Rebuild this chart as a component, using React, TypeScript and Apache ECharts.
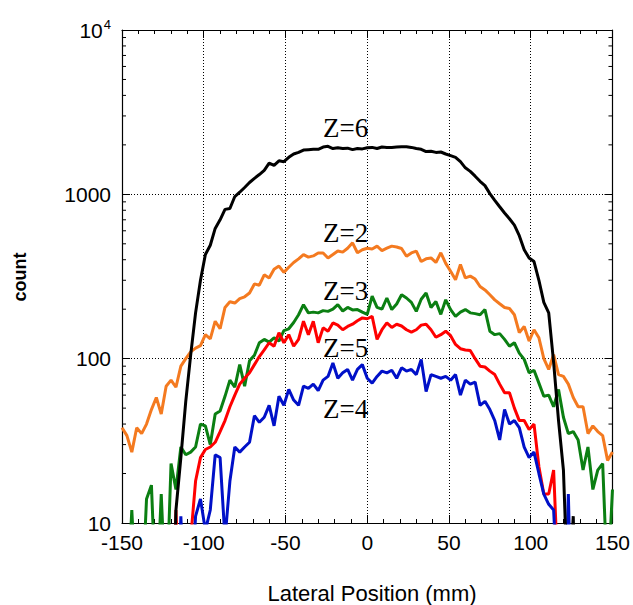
import React, { useEffect, useRef } from "react";
import * as echarts from "echarts";

const positions = [
  -150, -147, -144, -141, -138, -135, -132, -129, -126, -123,
  -120, -117, -114, -111, -108, -105, -102, -99, -96, -93,
  -90, -87, -84, -81, -78, -75, -72, -69, -66, -63,
  -60, -57, -54, -51, -48, -45, -42, -39, -36, -33,
  -30, -27, -24, -21, -18, -15, -12, -9, -6, -3,
  0, 3, 6, 9, 12, 15, 18, 21, 24, 27,
  30, 33, 36, 39, 42, 45, 48, 51, 54, 57,
  60, 63, 66, 69, 72, 75, 78, 81, 84, 87,
  90, 93, 96, 99, 102, 105, 108, 111, 114, 117,
  120, 123, 126, 129, 132, 135, 138, 141, 144, 147,
  150,
];

const z6 = [
  1, 1, 1, 1, 1, 1, 1, 1, 1, 1,
  1, 12, 25, 55, 105, 190, 300, 430, 490, 620,
  700, 810, 820, 970, 1030, 1100, 1180, 1250, 1320, 1400,
  1550, 1500, 1600, 1580, 1680, 1760, 1800, 1860, 1870, 1880,
  1880, 1940, 1960, 1900, 1920, 1900, 1910, 1870, 1900, 1890,
  1920, 1930, 1900, 1940, 1930, 1930, 1940, 1950, 1950, 1930,
  1900, 1880, 1820, 1830, 1800, 1810, 1760, 1720, 1680, 1580,
  1450, 1380, 1290, 1200, 1130, 1010, 920, 840, 770, 710,
  650, 560, 460, 410, 390, 300, 220, 190, 95, 42,
  21, 3, 11, 1, 1, 1, 1, 1, 1, 1,
  1,
];

const z2 = [
  38, 34, 27, 38, 35, 40, 49, 58, 46, 68,
  74, 67, 90, 100, 110, 116, 120, 140, 132, 169,
  152, 205, 222, 218, 232, 238, 251, 285, 280, 324,
  310, 350, 366, 335, 360, 385, 405, 430, 415, 422,
  440, 440, 410, 430, 452, 445, 470, 507, 441, 460,
  470, 465, 484, 455, 470, 484, 478, 468, 420, 440,
  451, 390, 405, 410, 385, 441, 380, 340, 302, 374,
  310, 318, 305, 275, 262, 245, 228, 216, 205, 202,
  185, 144, 157, 128, 150, 134, 100, 86, 106, 80,
  78, 70, 58, 51, 51, 35, 39, 36, 34, 24,
  27,
];

const z3 = [
  3, 3, 12, 3, 3, 14, 17, 3, 15, 3,
  23, 16, 29, 26, 27, 29, 40, 39, 30, 46,
  48, 59, 74, 67, 92, 68, 97, 105, 125, 131,
  126, 134, 128, 148, 152, 166, 185, 213, 190, 192,
  190, 196, 194, 200, 213, 195, 205, 198, 199, 192,
  186, 240, 205, 200, 234, 199, 215, 245, 234, 220,
  194, 230, 251, 205, 223, 186, 228, 199, 181, 192,
  199, 190, 188, 185, 199, 147, 140, 142, 131, 119,
  125, 108, 99, 82, 85, 71, 59, 60, 51, 65,
  44, 35, 36, 32, 21, 29, 16, 21, 23, 4,
  16,
];

const z5 = [
  1, 1, 1, 1, 1, 1, 1, 1, 1, 1,
  1, 12, 2, 2, 8, 18, 25, 28, 29, 31,
  36, 42, 51, 60, 70, 76, 82, 92, 103, 113,
  125, 119, 144, 125, 140, 119, 131, 169, 140, 169,
  125, 154, 147, 165, 160, 150, 157, 162, 170, 177,
  175, 181, 131, 150, 165, 155, 162, 158, 150, 145,
  150, 160, 162, 150, 135, 140, 147, 138, 122, 115,
  113, 112, 100, 90, 89, 84, 80, 70, 62, 62,
  50, 42, 42, 37, 40, 22, 15, 15, 21, 4,
  1, 1, 1, 1, 1, 1, 1, 1, 1, 1,
  1,
];

const z4 = [
  1, 1, 1, 1, 1, 1, 1, 1, 1, 1,
  1, 1, 11, 2, 3, 11, 14, 9, 12, 26,
  25, 8, 18, 29, 27, 29, 31, 45, 41, 44,
  52, 39, 59, 52, 65, 56, 52, 68, 66, 70,
  64, 74, 78, 94, 76, 82, 86, 74, 86, 92,
  76, 71, 78, 84, 82, 85, 76, 88, 84, 86,
  80, 99, 63, 80, 78, 76, 78, 74, 80, 60,
  74, 70, 72, 52, 55, 49, 42, 32, 49, 40,
  42, 38, 29, 25, 27, 20, 15, 13, 12, 3,
  1, 15, 1, 1, 1, 1, 1, 1, 1, 1,
  1,
];

const seriesNames = ["Z=2", "Z=3", "Z=5", "Z=4", "Z=6"];
const seriesColors = ["#f47a20", "#0b7f12", "#ff0000", "#0010c8", "#000000"];
const seriesData = [z2, z3, z5, z4, z6];

const labelTexts = ["Z=6", "Z=2", "Z=3", "Z=5", "Z=4"];
const labelY = [128, 233, 291, 348, 409];

const minorMultipliers = [2, 3, 4, 5, 6, 7, 8, 9];
const minorDecades = [10, 100, 1000];

const X_MIN = -150;
const X_MAX = 150;

export default function App() {
  const ref = useRef<HTMLDivElement | null>(null);

  useEffect(() => {
    if (!ref.current) return;
    const chart = echarts.init(ref.current, null, { renderer: "svg" });

    const minorTickValues: number[][] = [];
    minorDecades.forEach((d) =>
      minorMultipliers.forEach((m) => minorTickValues.push([X_MIN, d * m]))
    );

    const fontSans = "'Liberation Sans', Arial, sans-serif";
    const axisLine = { show: true, onZero: false, lineStyle: { color: "#000", width: 1.2 } };
    const gridLine = { show: true, lineStyle: { color: "#000", type: [1, 2], width: 1 } };

    const lineSeries = seriesData.map((arr, i) => ({
      name: seriesNames[i],
      type: "line",
      data: positions.map((x, j) => [x, arr[j]]),
      showSymbol: false,
      symbol: "none",
      clip: true,
      lineStyle: { color: seriesColors[i], width: 3 },
      itemStyle: { color: seriesColors[i] },
      z: 3 + i,
    }));

    const option: any = {
      animation: false,
      backgroundColor: "#ffffff",
      grid: { left: 122, top: 30, width: 492, height: 493, containLabel: false },
      xAxis: [
        {
          type: "value",
          min: X_MIN,
          max: X_MAX,
          interval: 50,
          position: "bottom",
          axisLine,
          axisTick: { show: true, inside: true, length: 8, lineStyle: { color: "#000" } },
          minorTick: { show: true, splitNumber: 5, length: 4, lineStyle: { color: "#000" } },
          axisLabel: { color: "#000", fontSize: 21, fontFamily: fontSans, margin: 9 },
          splitLine: gridLine,
        },
        {
          type: "value",
          min: X_MIN,
          max: X_MAX,
          interval: 50,
          position: "top",
          axisLine,
          axisTick: { show: true, inside: true, length: 8, lineStyle: { color: "#000" } },
          minorTick: { show: true, splitNumber: 5, length: 4, lineStyle: { color: "#000" } },
          axisLabel: { show: false },
          splitLine: { show: false },
        },
      ],
      yAxis: [
        {
          type: "log",
          logBase: 10,
          min: 10,
          max: 10000,
          position: "left",
          axisLine,
          axisTick: { show: true, inside: true, length: 8, lineStyle: { color: "#000" } },
          axisLabel: {
            color: "#000",
            fontSize: 21,
            fontFamily: fontSans,
            margin: 11,
            formatter: (v: number) => (v >= 9999 ? "{b|10}{s|4}" : String(Math.round(v))),
            rich: {
              b: { fontSize: 21, fontFamily: fontSans, color: "#000" },
              s: { fontSize: 13, fontFamily: fontSans, color: "#000", padding: [0, 0, 12, 1] },
            },
          },
          splitLine: gridLine,
        },
        {
          type: "log",
          logBase: 10,
          min: 10,
          max: 10000,
          position: "right",
          axisLine,
          axisTick: { show: true, inside: true, length: 8, lineStyle: { color: "#000" } },
          axisLabel: { show: false },
          splitLine: { show: false },
        },
      ],
      series: [
        ...lineSeries,
        {
          type: "custom",
          silent: true,
          clip: false,
          z: 20,
          data: minorTickValues,
          renderItem: (params: any, api: any) => {
            const v = api.value(1);
            const pL = api.coord([X_MIN, v]);
            const pR = api.coord([X_MAX, v]);
            return {
              type: "group",
              children: [
                {
                  type: "line",
                  shape: { x1: pL[0], y1: pL[1], x2: pL[0] + 4, y2: pL[1] },
                  style: { stroke: "#000", lineWidth: 1 },
                },
                {
                  type: "line",
                  shape: { x1: pR[0] - 4, y1: pR[1], x2: pR[0], y2: pR[1] },
                  style: { stroke: "#000", lineWidth: 1 },
                },
              ],
            };
          },
        },
      ],
      graphic: [
        ...labelTexts.map((t, i) => ({
          type: "text",
          x: 323,
          y: labelY[i],
          z: 50,
          style: {
            text: t,
            fill: "#000",
            font: "27px 'Liberation Serif', 'Times New Roman', serif",
            textAlign: "left",
            textVerticalAlign: "middle",
          },
        })),
        {
          type: "text",
          x: 372,
          y: 593,
          style: {
            text: "Lateral Position (mm)",
            fill: "#000",
            font: "22px 'Liberation Sans', Arial, sans-serif",
            textAlign: "center",
            textVerticalAlign: "middle",
          },
        },
        {
          type: "text",
          x: 20,
          y: 277,
          rotation: Math.PI / 2,
          style: {
            text: "count",
            fill: "#000",
            font: "bold 18px 'Liberation Sans', Arial, sans-serif",
            textAlign: "center",
            textVerticalAlign: "middle",
          },
        },
      ],
    };

    chart.setOption(option);
    return () => {
      chart.dispose();
    };
  }, []);

  return (
    <div
      ref={ref}
      style={{ position: "fixed", left: 0, top: 0, width: 633, height: 605, background: "#fff" }}
    />
  );
}
